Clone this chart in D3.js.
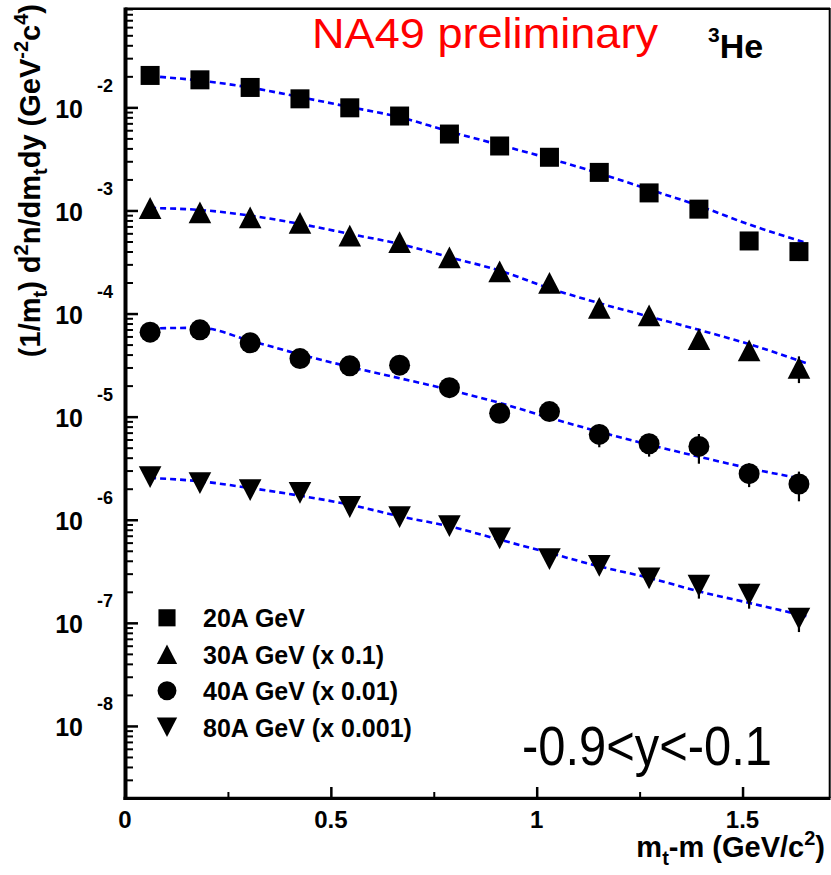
<!DOCTYPE html>
<html>
<head>
<meta charset="utf-8">
<script src="https://cdn.jsdelivr.net/npm/d3@7"></script>
<style>
  body { margin: 0; background: #fff; }
  svg text { font-family: "Liberation Sans", Arial, Helvetica, sans-serif; }
</style>
</head>
<body>
<div class="chart"></div>
<script>
// m_t - m bin centres (GeV/c^2)
var mtX = [0.061, 0.182, 0.304, 0.425, 0.546, 0.667, 0.788, 0.910, 1.031, 1.152, 1.273, 1.394, 1.516, 1.637];

// 3He spectra, already scaled as in the legend
var he20 = [0.0204, 0.0185, 0.0156, 0.0121, 0.0099, 0.00824, 0.00551, 0.00422, 0.00328, 0.00234, 0.00148, 0.00103, 5.06e-4, 3.99e-4];
var he30 = [1.057e-3, 9.57e-4, 8.55e-4, 7.57e-4, 5.69e-4, 4.92e-4, 3.51e-4, 2.56e-4, 1.98e-4, 1.135e-4, 9.6e-5, 5.66e-5, 4.40e-5, 2.98e-5];
var he40 = [6.60e-5, 6.95e-5, 5.20e-5, 3.66e-5, 3.11e-5, 3.16e-5, 1.91e-5, 1.08e-5, 1.12e-5, 6.73e-6, 5.46e-6, 5.14e-6, 2.80e-6, 2.22e-6];
var he80 = [2.59e-6, 2.27e-6, 1.94e-6, 1.82e-6, 1.33e-6, 1.06e-6, 8.67e-7, 6.61e-7, 4.15e-7, 3.57e-7, 2.70e-7, 2.29e-7, 1.88e-7, 1.10e-7];

// relative errors
var err20 = [0.04, 0.04, 0.04, 0.04, 0.05, 0.05, 0.06, 0.07, 0.08, 0.09, 0.10, 0.12, 0.15, 0.19];
var err30 = [0.05, 0.05, 0.05, 0.06, 0.06, 0.07, 0.08, 0.09, 0.10, 0.12, 0.14, 0.16, 0.20, 0.29];
var err40 = [0.06, 0.06, 0.07, 0.08, 0.09, 0.10, 0.12, 0.13, 0.15, 0.25, 0.25, 0.32, 0.26, 0.32];
var err80 = [0.05, 0.05, 0.06, 0.07, 0.08, 0.09, 0.10, 0.12, 0.14, 0.16, 0.18, 0.25, 0.27, 0.26];

// fit curves (blue dashed)
var fitX = [0.061, 0.182, 0.304, 0.425, 0.546, 0.667, 0.788, 0.910, 1.031, 1.152, 1.273, 1.394, 1.516, 1.655];
var fit20 = [0.0201, 0.0182, 0.01556, 0.01259, 0.01007, 0.00805, 0.00583, 0.00432, 0.00319, 0.00229, 0.00160, 0.00111, 7.31e-4, 4.84e-4];
var fit30 = [1.057e-3, 1.011e-3, 8.91e-4, 7.40e-4, 5.92e-4, 4.73e-4, 3.52e-4, 2.61e-4, 1.76e-4, 1.26e-4, 9.35e-5, 6.95e-5, 5.05e-5, 3.30e-5];
var fit40 = [7.19e-5, 7.27e-5, 5.44e-5, 4.02e-5, 3.04e-5, 2.36e-5, 1.82e-5, 1.36e-5, 9.75e-6, 7.14e-6, 5.34e-6, 4.09e-6, 3.16e-6, 2.45e-6];
var fit80 = [2.54e-6, 2.36e-6, 2.03e-6, 1.71e-6, 1.40e-6, 1.08e-6, 8.63e-7, 6.41e-7, 4.76e-7, 3.53e-7, 2.73e-7, 2.02e-7, 1.56e-7, 1.16e-7];

var seriesLabels = ['20A GeV', '30A GeV (x 0.1)', '40A GeV (x 0.01)', '80A GeV (x 0.001)'];
var seriesShapes = ['square', 'triangle', 'circle', 'invtriangle'];
var xTickLabels = ['0', '0.5', '1', '1.5'];
var yExponents = [-2, -3, -4, -5, -6, -7, -8];

var width = 831, height = 875;
var LEFT = 125, RIGHT = 829, TOP = 8, BOTTOM = 798;

var svg = d3.select('.chart').append('svg')
  .attr('width', width)
  .attr('height', height);

var x = d3.scaleLinear().domain([0, 1.71]).range([LEFT, RIGHT]);
var y = d3.scaleLog().domain([2e-9, 0.092]).range([BOTTOM, TOP]);

// ticks on y axis (inside)
var minorY = [];
yExponents.concat([-9]).forEach(function (e) {
  for (var k = 2; k <= 9; k++) {
    var v = k * Math.pow(10, e);
    if (v > y.domain()[0] && v < y.domain()[1]) minorY.push(v);
  }
});
var majorY = yExponents.map(function (e) { return Math.pow(10, e); });

svg.append('g')
  .attr('transform', 'translate(' + LEFT + ',0)')
  .call(d3.axisRight(y).tickValues(minorY).tickSize(8).tickFormat(''))
  .call(function (g) { g.select('.domain').remove(); g.selectAll('line').attr('stroke-width', 2); });
svg.append('g')
  .attr('transform', 'translate(' + LEFT + ',0)')
  .call(d3.axisRight(y).tickValues(majorY).tickSize(13).tickFormat(''))
  .call(function (g) { g.select('.domain').remove(); g.selectAll('line').attr('stroke-width', 2.5); });

// ticks on x axis (inside)
svg.append('g')
  .attr('transform', 'translate(0,' + BOTTOM + ')')
  .call(d3.axisTop(x).tickValues([0.25, 0.75, 1.25]).tickSize(6).tickFormat(''))
  .call(function (g) { g.select('.domain').remove(); g.selectAll('line').attr('stroke-width', 2); });
svg.append('g')
  .attr('transform', 'translate(0,' + BOTTOM + ')')
  .call(d3.axisTop(x).tickValues([0, 0.5, 1, 1.5]).tickSize(11).tickFormat(''))
  .call(function (g) { g.select('.domain').remove(); g.selectAll('line').attr('stroke-width', 2.5); });

// frame
svg.append('line').attr('x1', LEFT).attr('x2', RIGHT + 1).attr('y1', TOP + 0.7).attr('y2', TOP + 0.7)
  .attr('stroke', '#000').attr('stroke-width', 2.6);
svg.append('line').attr('x1', RIGHT + 0.7).attr('x2', RIGHT + 0.7).attr('y1', TOP).attr('y2', BOTTOM)
  .attr('stroke', '#000').attr('stroke-width', 2);
svg.append('line').attr('x1', LEFT + 0.5).attr('x2', LEFT + 0.5).attr('y1', TOP - 0.5).attr('y2', BOTTOM + 2)
  .attr('stroke', '#000').attr('stroke-width', 4);
svg.append('line').attr('x1', LEFT - 1.5).attr('x2', RIGHT + 1.5).attr('y1', BOTTOM + 0.3).attr('y2', BOTTOM + 0.3)
  .attr('stroke', '#000').attr('stroke-width', 3.3);

// y tick labels: 10 with exponent
majorY.forEach(function (v, i) {
  var py = y(v);
  svg.append('text')
    .attr('x', 83).attr('y', py + 10.5)
    .attr('text-anchor', 'end')
    .style('font-size', '25px').style('font-weight', 'bold')
    .text('10');
  svg.append('text')
    .attr('x', 97).attr('y', py - 15.5)
    .style('font-size', '18px').style('font-weight', 'bold')
    .text(yExponents[i]);
});

// x tick labels
xTickLabels.forEach(function (t) {
  svg.append('text')
    .attr('x', x(+t)).attr('y', 828)
    .attr('text-anchor', 'middle')
    .style('font-size', '24px').style('font-weight', 'bold')
    .text(t);
});

// axis titles
var xt = svg.append('text')
  .attr('x', 825).attr('y', 857)
  .attr('text-anchor', 'end')
  .style('font-size', '29px').style('font-weight', 'bold');
xt.append('tspan').text('m');
xt.append('tspan').attr('dy', 8).style('font-size', '20px').text('t');
xt.append('tspan').attr('dy', -8).text('-m (GeV/c');
xt.append('tspan').attr('dy', -12).style('font-size', '20px').text('2');
xt.append('tspan').attr('dy', 12).text(')');

var yt = svg.append('text')
  .attr('transform', 'translate(40,4) rotate(-90)')
  .attr('text-anchor', 'end')
  .style('font-size', '29px').style('font-weight', 'bold');
yt.append('tspan').text('(1/m');
yt.append('tspan').attr('dy', 7).style('font-size', '20px').text('t');
yt.append('tspan').attr('dy', -7).text(') d');
yt.append('tspan').attr('dy', -12).style('font-size', '20px').text('2');
yt.append('tspan').attr('dy', 12).text('n/dm');
yt.append('tspan').attr('dy', 7).style('font-size', '20px').text('t');
yt.append('tspan').attr('dy', -7).text('dy (GeV');
yt.append('tspan').attr('dy', -12).style('font-size', '20px').text('-2');
yt.append('tspan').attr('dy', 12).text('c');
yt.append('tspan').attr('dy', -12).style('font-size', '20px').text('4');
yt.append('tspan').attr('dy', 12).text(')');

// fit curves
var fits = [fit20, fit30, fit40, fit80];
var line = d3.line()
  .x(function (d) { return x(d[0]); })
  .y(function (d) { return y(d[1]); })
  .curve(d3.curveMonotoneX);
fits.forEach(function (f) {
  svg.append('path')
    .datum(fitX.map(function (xv, i) { return [xv, f[i]]; }))
    .attr('d', line)
    .attr('fill', 'none')
    .attr('stroke', '#0000ff')
    .attr('stroke-width', 2.6)
    .attr('stroke-dasharray', '6,4');
});

// markers
function drawMarker(g, shape, cx, cy, s) {
  if (shape === 'square') {
    g.append('rect').attr('x', cx - 9.5 * s).attr('y', cy - 9.5 * s)
      .attr('width', 19 * s).attr('height', 19 * s).attr('fill', '#000');
  } else if (shape === 'circle') {
    g.append('circle').attr('cx', cx).attr('cy', cy).attr('r', 10.5 * s).attr('fill', '#000');
  } else {
    var w = 11.3 * s, h = 10.9 * s, dir = shape === 'triangle' ? 1 : -1;
    g.append('path')
      .attr('d', 'M' + (cx - w) + ',' + (cy + dir * h) + 'L' + (cx + w) + ',' + (cy + dir * h) +
        'L' + cx + ',' + (cy - dir * h) + 'Z')
      .attr('fill', '#000');
  }
}

var values = [he20, he30, he40, he80];
var errs = [err20, err30, err40, err80];
values.forEach(function (vals, si) {
  var g = svg.append('g').attr('class', 'series-' + si);
  g.selectAll('line.err')
    .data(vals)
    .enter().append('line')
    .attr('class', 'err')
    .attr('x1', function (d, i) { return x(mtX[i]); })
    .attr('x2', function (d, i) { return x(mtX[i]); })
    .attr('y1', function (d, i) { return y(d * (1 + errs[si][i])); })
    .attr('y2', function (d, i) { return y(d * (1 - errs[si][i])); })
    .attr('stroke', '#000')
    .attr('stroke-width', 2.2);
  vals.forEach(function (d, i) {
    drawMarker(g, seriesShapes[si], x(mtX[i]), y(d), 1);
  });
});

// legend
seriesLabels.forEach(function (lab, i) {
  var base = 627.3 + i * 36.5;
  drawMarker(svg, seriesShapes[i], 167, base - 9.5, 0.9);
  svg.append('text')
    .attr('x', 203).attr('y', base)
    .style('font-size', '25px').style('font-weight', 'bold')
    .text(lab);
});

// annotations
svg.append('text')
  .attr('x', 312).attr('y', 48)
  .attr('fill', '#ff0000')
  .attr('textLength', 346).attr('lengthAdjust', 'spacingAndGlyphs')
  .style('font-size', '43px')
  .text('NA49 preliminary');

var he = svg.append('text').attr('x', 708).attr('y', 58)
  .style('font-weight', 'bold').style('font-size', '34px');
he.append('tspan').attr('dy', -16).style('font-size', '21px').text('3');
he.append('tspan').attr('dy', 16).text('He');

svg.append('text')
  .attr('x', 522).attr('y', 765)
  .attr('textLength', 250).attr('lengthAdjust', 'spacingAndGlyphs')
  .style('font-size', '55px')
  .text('-0.9<y<-0.1');
</script>
</body>
</html>
